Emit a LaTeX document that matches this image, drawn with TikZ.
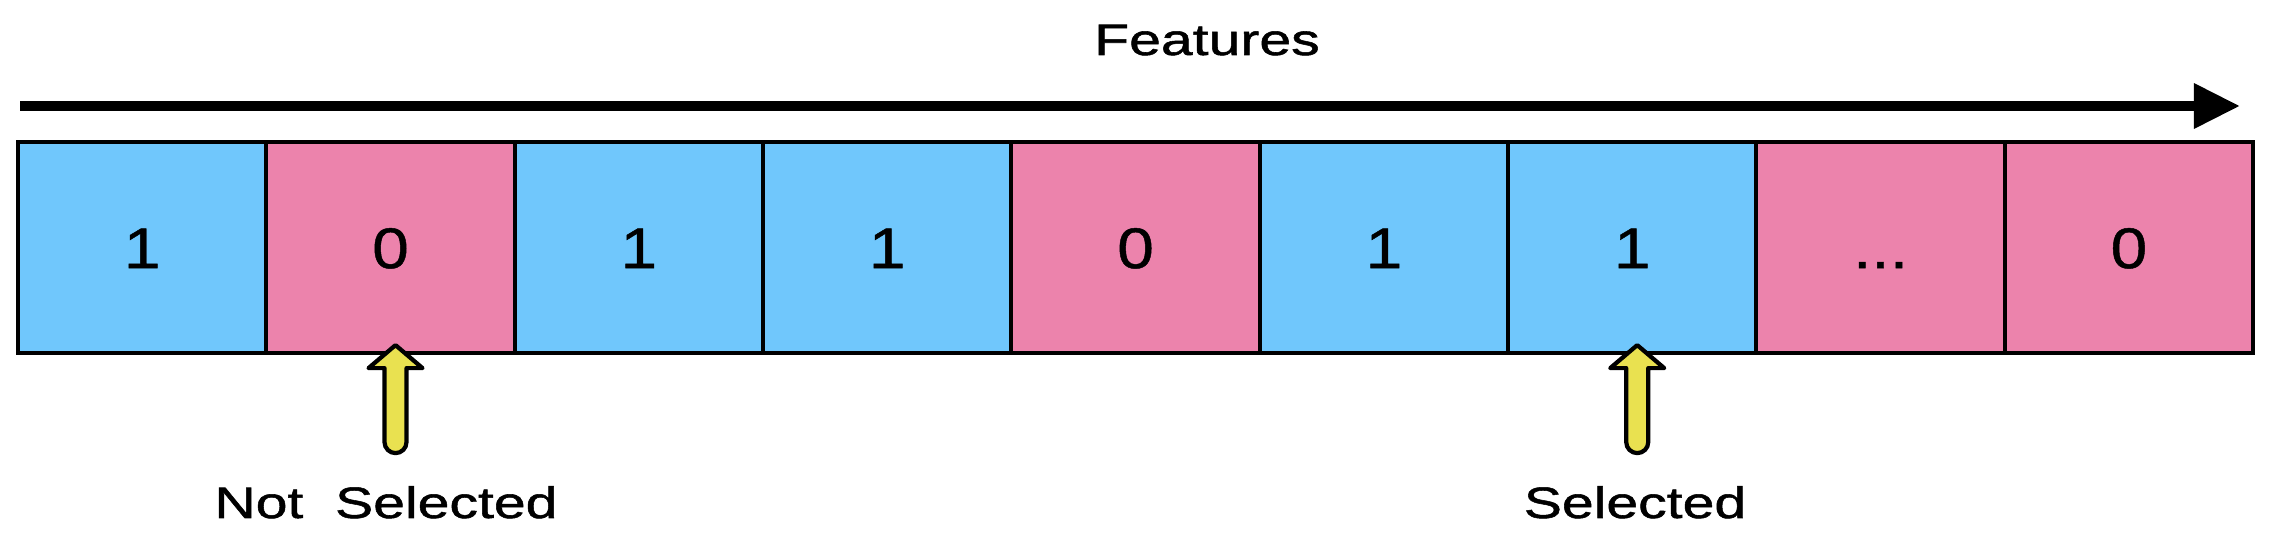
\documentclass[tikz,border=0pt]{standalone}
\usepackage{fontspec}
\usepackage{tikz}
\usetikzlibrary{positioning,arrows.meta}
\newfontfamily\labelfont[FakeStretch=1.3,FakeBold=1.2]{Liberation Sans}
\newfontfamily\bitfont[FakeStretch=1.15,FakeBold=0.8]{Liberation Sans}
\definecolor{bitone}{RGB}{112,199,252}
\definecolor{bitzero}{RGB}{236,131,172}
\definecolor{pointer}{RGB}{233,225,80}
\tikzset{
	bitbox/.style={draw=black, line width=1.1pt, minimum width=2.482cm, minimum height=2.11cm,
		inner sep=0pt, outer sep=0pt, text height=11.7pt, text depth=0pt,
		font=\bitfont\fontsize{16.3}{18}\selectfont},
	onebit/.style={bitbox, fill=bitone},
	zerobit/.style={bitbox, fill=bitzero},
	tag/.style={anchor=base, font=\labelfont\fontsize{12.5}{14}\selectfont},
	axisline/.style={line width=2.85pt, -{Triangle[length=13.1pt, width=12.2pt]}},
	pointerbody/.style={draw=black, fill=pointer, line width=1.2pt, line join=round}
}
\def\pointerat(#1){\draw[pointerbody] (#1) ++(5,-8) -- ++(27,23) -- ++(-16,0) -- ++(0,74) arc (0:180:11) -- ++(0,-74) -- ++(-16,0) -- cycle;}

\begin{document}
\begin{tikzpicture}[x=0.01cm, y=-0.01cm]
			%%%%% START %%%%%
			\useasboundingbox (0,0) rectangle (2272,543);
			
			\node[tag] (feat) at (1207,55) {Features};
			\coordinate (axstart) at (20,106);
			\coordinate (axend) at (2240,106);
			\draw[axisline] (axstart) -- (axend);
			
			\node[onebit, anchor=north west] (b1) at (18,142) {1};
			\node[zerobit, right=0pt of b1] (b2) {0};
			\node[onebit, right=0pt of b2] (b3) {1};
			\node[onebit, right=0pt of b3] (b4) {1};
			\node[zerobit, right=0pt of b4] (b5) {0};
			\node[onebit, right=0pt of b5] (b6) {1};
			\node[onebit, right=0pt of b6] (b7) {1};
			\node[zerobit, right=0pt of b7] (b8) {...};
			\node[zerobit, right=0pt of b8] (b9) {0};
			
			\pointerat(b2.south)
			\pointerat(b7.south)
			
			\node[tag] (notsel) at (386,518) {Not\ \ Selected};
			\node[tag] (sel) at (1635,518) {Selected};
			%%%%% END %%%%%
\end{tikzpicture}
\end{document}
